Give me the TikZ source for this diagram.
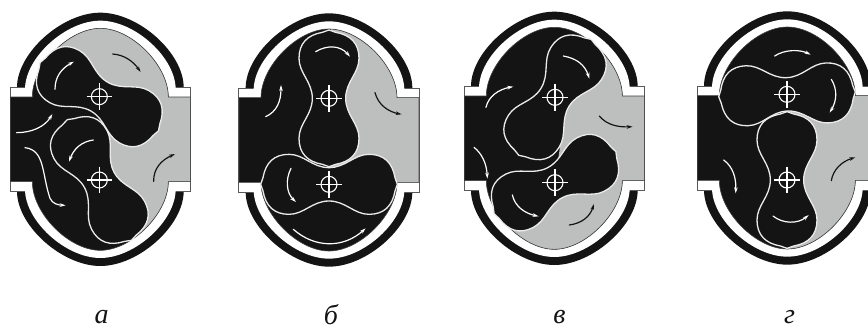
\documentclass[tikz,border=0pt]{standalone}
\usepackage{fontspec}
\setmainfont{Liberation Serif}
\usetikzlibrary{arrows.meta}
\definecolor{ink}{HTML}{141414}
\definecolor{fluid}{HTML}{BDBFBE}
\tikzset{
  wflow/.style={white,line width=1.2pt,line cap=round,-{Stealth[length=6pt,width=3.6pt]}},
  dflow/.style={ink,line width=1.2pt,line cap=round,-{Stealth[length=6pt,width=3.6pt]}},
  lbl/.style={font=\fontsize{28}{28}\selectfont\itshape,text=ink,inner sep=0pt,anchor=center},
  panel/.style={x=.33333pt,y=-.33333pt}
}
\newcommand\ovalpath[5]{
  (-#1,-#3) .. controls (-#1,-#5) and (-#4,-#2) .. (0,-#2)
  .. controls (#4,-#2) and (#1,-#5) .. (#1,-#3)
  -- (#1,#3) .. controls (#1,#5) and (#4,#2) .. (0,#2)
  .. controls (-#4,#2) and (-#1,#5) .. (-#1,#3) -- cycle}
\newcommand\cavitypath{
  (-204,-127) .. controls (-204,-222) and (-94,-333) .. (0,-333)
  .. controls (94,-333) and (204,-222) .. (204,-127)
  -- (270,-127) -- (270,127) -- (204,127)
  .. controls (204,222) and (94,333) .. (0,333)
  .. controls (-94,333) and (-204,222) .. (-204,127)
  -- (-270,127) -- (-270,-127) -- cycle}
% #1,#2 centre; #3 grey polygon in panel coordinates
\newcommand\housing[3]{
  \begin{scope}[shift={(#1,#2)}]
    \fill[ink] \ovalpath{250}{380}{156}{115}{259};
    \filldraw[fill=white,draw=black!65,line width=.7pt] (-271,-156) rectangle (271,156);
    \fill[white] \ovalpath{226}{356}{150}{104}{245};
    \fill[ink] \cavitypath;
  \end{scope}
  \begin{scope}
    \begin{scope}[shift={(#1,#2)}]
      \clip \cavitypath;
      \begin{scope}[shift={(-#1,-#2)}]
        \fill[fluid] #3;
      \end{scope}
    \end{scope}
  \end{scope}
  \begin{scope}[shift={(#1,#2)}]
    \draw[black!75,line width=.6pt] \cavitypath;
  \end{scope}
}
\newcommand\rotor[3]{
  \begin{scope}[shift={(#1,#2)},rotate=#3]
    \draw[fill=ink,draw=white!92!black,line width=1.3pt,line join=round]
      (205,0) -- (198,20) .. controls (190,65) and (165,90) .. (120,90)
      .. controls (75,90) and (50,50) .. (0,50)
      .. controls (-50,50) and (-75,90) .. (-120,90)
      .. controls (-165,90) and (-190,65) .. (-198,20)
      -- (-205,0) -- (-198,-20)
      .. controls (-190,-65) and (-165,-90) .. (-120,-90)
      .. controls (-75,-90) and (-50,-50) .. (0,-50)
      .. controls (50,-50) and (75,-90) .. (120,-90)
      .. controls (165,-90) and (190,-65) .. (198,-20) -- cycle;
  \end{scope}
  \begin{scope}[shift={(#1,#2)}]
    \draw[white,line width=1.1pt] (0,0) circle[radius=8pt];
    \draw[white,line width=1.1pt] (-38,0) -- (38,0) (0,-40) -- (0,40);
  \end{scope}
}
\begin{document}
\begin{tikzpicture}[x=1pt,y=-1pt]
\useasboundingbox (0,0) rectangle (868,327);
\fill[white] (0,0) rectangle (868,327);

% panel a
\begin{scope}[panel]
  \housing{301}{418}{(130,180) -- (130,30) -- (640,30) -- (640,810) -- (400,810) -- (400,715) -- (298,540) -- (320,400) -- (298,290) -- cycle}
  \rotor{298}{290}{-30}
  \rotor{298}{540}{-62}
  \draw[dflow] (338,162) .. controls (375,165) and (400,185) .. (422,216);
  \draw[wflow] (165,268) .. controls (165,230) and (185,205) .. (222,185);
  \draw[wflow] (50,398) .. controls (95,398) and (135,380) .. (157,342);
  \draw[wflow] (75,443) .. controls (135,450) and (125,520) .. (150,595) .. controls (158,612) and (175,615) .. (197,616);
  \draw[wflow] (280,420) .. controls (245,425) and (222,445) .. (207,485);
  \draw[dflow] (461,544) .. controls (460,505) and (485,480) .. (525,462);
  \node[lbl] (la) at (305,950) {а};
\end{scope}

% panel b
\begin{scope}[panel,xshift=225pt]
  \housing{312}{420}{(318,95) -- (318,30) -- (640,30) -- (640,555) -- (515,555) -- (312,553) -- (312,295) -- cycle}
  \rotor{312}{295}{90}
  \rotor{312}{553}{0}
  \draw[wflow] (272,155) .. controls (305,135) and (345,135) .. (375,170);
  \draw[wflow] (122,350) .. controls (155,335) and (168,305) .. (168,255);
  \draw[dflow] (450,278) .. controls (460,315) and (490,335) .. (530,343);
  \draw[wflow] (198,505) .. controls (180,540) and (185,580) .. (213,606);
  \draw[wflow] (205,688) .. controls (270,745) and (355,745) .. (422,685);
  \node[lbl] (lb) at (318,945) {б};
\end{scope}

% panel c
\begin{scope}[panel,xshift=450pt]
  \housing{313}{415}{(420,120) -- (420,20) -- (640,20) -- (640,810) -- (130,810) -- (130,640) -- (315,548) -- (330,440) -- (315,290) -- cycle}
  \rotor{315}{292}{58}
  \rotor{315}{548}{27}
  \draw[wflow] (340,168) .. controls (380,175) and (405,195) .. (418,236);
  \draw[wflow] (108,322) .. controls (115,290) and (145,268) .. (190,260);
  \draw[dflow] (448,348) .. controls (470,375) and (505,382) .. (548,380);
  \draw[wflow] (72,442) .. controls (95,460) and (110,490) .. (112,536);
  \draw[wflow] (187,585) .. controls (195,620) and (225,640) .. (266,649);
  \draw[dflow] (358,675) .. controls (395,670) and (420,650) .. (432,612);
  \node[lbl] (lc) at (328,950) {в};
\end{scope}

% panel d
\begin{scope}[panel,xshift=658pt]
  \housing{388}{414}{(590,275) -- (640,275) -- (640,810) -- (385,810) -- (385,745) -- (387,540) -- (387,283) -- cycle}
  \rotor{387}{283}{2}
  \rotor{387}{540}{90}
  \draw[wflow] (350,168) .. controls (380,148) and (425,148) .. (458,164);
  \draw[wflow] (520,238) .. controls (540,270) and (535,305) .. (515,338);
  \draw[wflow] (197,480) .. controls (225,500) and (235,535) .. (233,580);
  \draw[dflow] (520,542) .. controls (525,510) and (550,485) .. (592,472);
  \draw[wflow] (345,648) .. controls (375,672) and (420,672) .. (452,645);
  \node[lbl] (ld) at (395,950) {г};
\end{scope}
\end{tikzpicture}
\end{document}
